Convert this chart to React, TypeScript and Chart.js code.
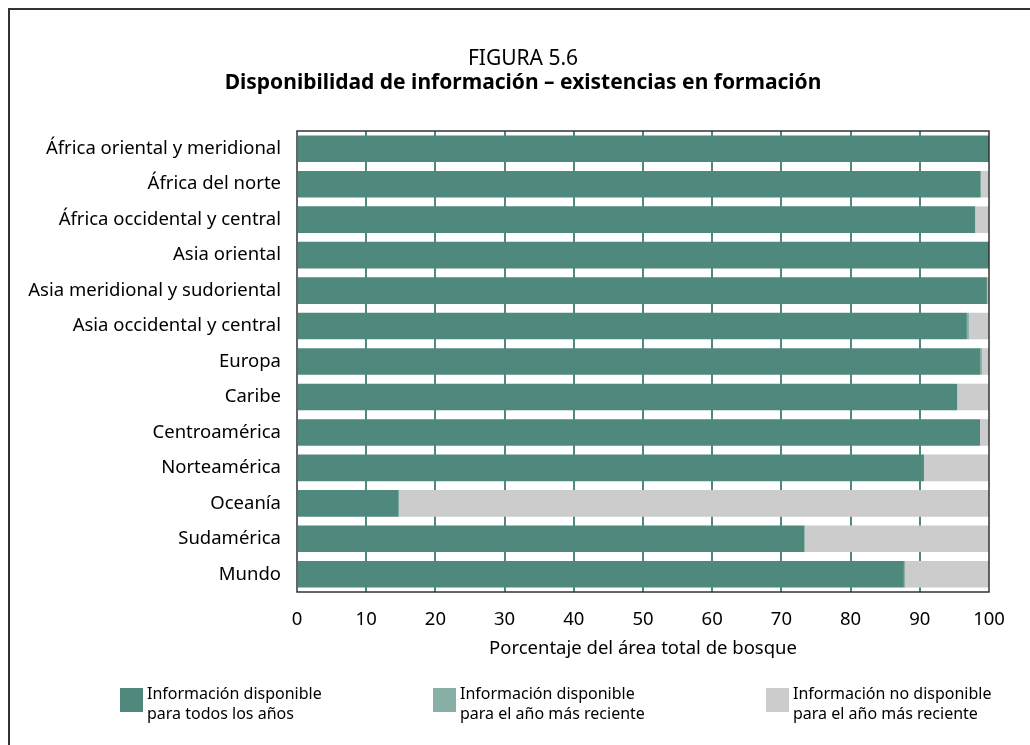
import React, { useEffect, useRef } from "react";
import { Chart, registerables } from "chart.js";

Chart.register(...registerables);

const categories = [
  "África oriental y meridional",
  "África del norte",
  "África occidental y central",
  "Asia oriental",
  "Asia meridional y sudoriental",
  "Asia occidental y central",
  "Europa",
  "Caribe",
  "Centroamérica",
  "Norteamérica",
  "Oceanía",
  "Sudamérica",
  "Mundo",
];

// Porcentaje del área total de bosque
const allYears = [100, 98.8, 98.0, 100, 99.7, 96.8, 98.7, 95.4, 98.7, 90.6, 14.7, 73.3, 87.7];
const recentYear = [0, 0, 0, 0, 0.1, 0.3, 0.3, 0, 0, 0, 0, 0.1, 0.2];
const notAvailable = [0, 1.2, 2.0, 0, 0.2, 2.9, 1.0, 4.6, 1.3, 9.4, 85.3, 26.6, 12.1];

const seriesNames = [
  ["Información disponible", "para todos los años"],
  ["Información disponible", "para el año más reciente"],
  ["Información no disponible", "para el año más reciente"],
];
const seriesColors = ["#4f897d", "#88b0a7", "#cccccc"];

const figureLabel = "FIGURA 5.6";
const titleText = "Disponibilidad de información – existencias en formación";
const axisTitle = "Porcentaje del área total de bosque";

const FONT = '"Noto Sans", sans-serif';
const GRID_COLOR = "#4f897d";
const LABEL_SIZE = 18.5;

const decorPlugin = {
  id: "decor",
  afterDatasetsDraw(chart: any) {
    const { ctx, chartArea: a } = chart;
    ctx.save();
    ctx.strokeStyle = "#333333";
    ctx.lineWidth = 1.5;
    ctx.strokeRect(a.left, a.top, a.right - a.left, a.bottom - a.top);
    ctx.restore();
  },
  afterDraw(chart: any) {
    const { ctx } = chart;
    ctx.save();
    ctx.fillStyle = "#000";
    ctx.textAlign = "center";
    ctx.textBaseline = "alphabetic";
    ctx.font = `21px ${FONT}`;
    ctx.fillText(figureLabel, 523, 65);
    ctx.font = `bold 21px ${FONT}`;
    ctx.fillText(titleText, 523, 89);

    // legend
    const xs = [120, 433, 766];
    const boxTop = 688;
    chart.data.datasets.forEach((ds: any, i: number) => {
      const x = xs[i];
      ctx.fillStyle = ds.backgroundColor;
      ctx.fillRect(x, boxTop, 23, 24);
      ctx.fillStyle = "#000";
      ctx.textAlign = "left";
      ctx.font = `16px ${FONT}`;
      const lines = seriesNames[i];
      lines.forEach((ln, j) => {
        ctx.fillText(ln, x + 27, 699 + j * 20);
      });
    });
    ctx.restore();
  },
};

export default function App() {
  const canvasRef = useRef<HTMLCanvasElement | null>(null);

  useEffect(() => {
    const canvas = canvasRef.current;
    if (!canvas) return;
    const chart = new Chart(canvas, {
      type: "bar",
      data: {
        labels: categories,
        datasets: [
          { label: seriesNames[0].join(" "), data: allYears, backgroundColor: seriesColors[0] },
          { label: seriesNames[1].join(" "), data: recentYear, backgroundColor: seriesColors[1] },
          { label: seriesNames[2].join(" "), data: notAvailable, backgroundColor: seriesColors[2] },
        ],
      },
      options: {
        indexAxis: "y",
        responsive: false,
        animation: false,
        maintainAspectRatio: false,
        datasets: {
          bar: { barPercentage: 0.75, categoryPercentage: 1, borderWidth: 0 },
        },
        layout: { padding: { left: 0, right: 41, top: 131, bottom: 0 } },
        plugins: {
          legend: { display: false },
          title: { display: false },
          tooltip: { enabled: false },
        },
        scales: {
          x: {
            stacked: true,
            min: 0,
            max: 100,
            ticks: {
              stepSize: 10,
              padding: 17,
              color: "#000",
              font: { family: FONT, size: LABEL_SIZE },
              maxRotation: 0,
            },
            grid: {
              drawTicks: false,
              lineWidth: 2,
              color: (c: any) =>
                c.tick && (c.tick.value === 0 || c.tick.value === 100) ? "rgba(0,0,0,0)" : GRID_COLOR,
            },
            border: { display: false },
            title: {
              display: true,
              text: axisTitle,
              color: "#000",
              font: { family: FONT, size: LABEL_SIZE },
              padding: { top: 0, bottom: 85 },
            },
            afterFit: (s: any) => {
              s.height = 153;
            },
          },
          y: {
            stacked: true,
            ticks: {
              padding: 16,
              color: "#000",
              font: { family: FONT, size: LABEL_SIZE },
            },
            grid: { display: false, drawTicks: false },
            border: { display: false },
            afterFit: (s: any) => {
              s.width = 297;
            },
          },
        },
      },
      plugins: [decorPlugin],
    });
    return () => chart.destroy();
  }, []);

  return (
    <div
      style={{
        position: "fixed",
        left: 0,
        top: 0,
        width: 1030,
        height: 745,
        overflow: "hidden",
        background: "#fff",
      }}
    >
      <div
        style={{
          position: "absolute",
          left: 8,
          top: 8,
          width: 1100,
          height: 900,
          border: "2px solid #333",
          boxSizing: "border-box",
        }}
      />
      <canvas
        ref={canvasRef}
        width={1030}
        height={745}
        style={{ position: "absolute", left: 0, top: 0, display: "block" }}
      />
    </div>
  );
}
